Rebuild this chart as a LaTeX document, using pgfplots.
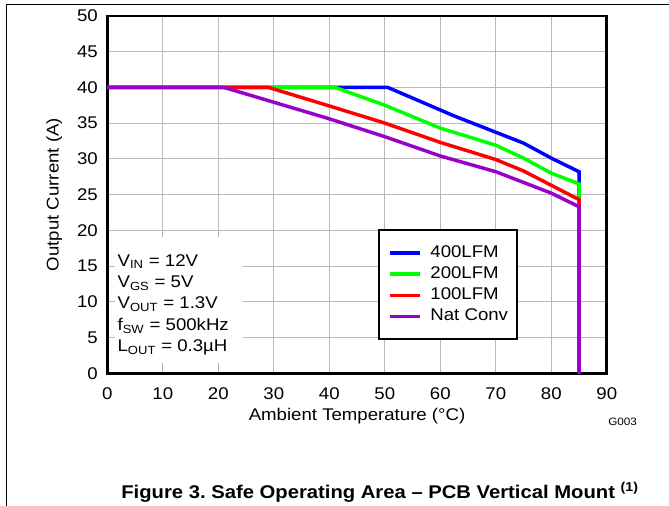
\documentclass[border=0pt]{standalone}
\usepackage{fontspec}
\setmainfont{Liberation Sans}[FakeStretch=1.1]
\usepackage{pgfplots}
\pgfplotsset{compat=1.18}
\frenchspacing

\definecolor{c400}{RGB}{0,0,255}
\definecolor{c200}{RGB}{0,255,0}
\definecolor{c100}{RGB}{255,0,0}
\definecolor{cnat}{RGB}{153,0,204}
\newcommand{\lbl}{\fontsize{12.7}{14}\selectfont}

\begin{document}
\begin{tikzpicture}
\useasboundingbox (0,0) rectangle (501.75pt,379.5pt);
% frame of the datasheet table
\draw[line width=0.8pt] (4.8pt,0) -- (4.8pt,376.3pt) -- (501.75pt,376.3pt);

\begin{axis}[
    at={(80.5pt,99.5pt)}, anchor=south west,
    scale only axis, width=374.6pt, height=268.1pt,
    xmin=0, xmax=90, ymin=0, ymax=50,
    xtick={0,10,...,90}, ytick={0,5,...,50},
    grid=major, grid style={gray!55, line width=0.75pt},
    major tick length=0pt,
    axis line style={line width=2pt},
    /pgf/number format/assume math mode=true,
    tick label style={font=\lbl},
    xticklabel style={anchor=base, yshift=-19.3pt},
    yticklabel style={anchor=east, inner sep=0pt, xshift=-7pt},
    xlabel={Ambient Temperature (°C)},
    ylabel={Output Current (A)},
    xlabel style={at={(axis description cs:0.5,-0.1326)}, anchor=base, font=\lbl},
    ylabel style={at={(axis description cs:-0.0974,0.5)}, anchor=base, font=\lbl},
    legend style={at={(axis description cs:0.5425,0.4028)}, anchor=north west,
        draw=black, line width=1.5pt, fill=white,
        inner xsep=6.5pt, inner ysep=9pt, row sep=0pt, column sep=6.75pt,
        nodes={inner sep=0pt, text height=11pt, text depth=4.9pt, font=\lbl}},
    legend cell align=left,
    legend image code/.code={\draw[#1] (0pt,0pt) -- (22.5pt,0pt);},
]
\addplot[c400, line width=2.6pt] coordinates {
    (0,40) (50.5,40) (62.5,36) (75,32.2) (80,30.1) (85,28.2) (85,0)};
\addlegendentry{400LFM}
\addplot[c200, line width=2.6pt] coordinates {
    (0,40) (41,40) (50,37.5) (60,34.3) (70,31.9) (75,30.1) (80,28.0) (85,26.5) (85,0)};
\addlegendentry{200LFM}
\addplot[c100, line width=2.6pt] coordinates {
    (0,40) (29,40) (40,37.4) (50,35) (60,32.3) (70,29.9) (75,28.3) (80,26.3) (85,24.3) (85,0)};
\addlegendentry{100LFM}
\addplot[cnat, line width=2.6pt] coordinates {
    (0,40) (21,40) (40,35.6) (50,33.1) (60,30.4) (70,28.2) (80,25.2) (85,23.3) (85,0)};
\addlegendentry{Nat Conv}

% conditions box
\fill[white] (axis cs:1.4,1.4) rectangle (axis cs:24.4,19);
\node[anchor=base west, inner sep=0pt, font=\lbl] at (axis cs:1.8,15) {V\textsubscript{IN} = 12V};
\node[anchor=base west, inner sep=0pt, font=\lbl] at (axis cs:1.8,12) {V\textsubscript{GS} = 5V};
\node[anchor=base west, inner sep=0pt, font=\lbl] at (axis cs:1.8,9) {V\textsubscript{OUT} = 1.3V};
\node[anchor=base west, inner sep=0pt, font=\lbl] at (axis cs:1.8,6) {f\textsubscript{SW} = 500kHz};
\node[anchor=base west, inner sep=0pt, font=\lbl] at (axis cs:1.8,3) {L\textsubscript{OUT} = 0.3µH};
\end{axis}

\node[anchor=base, font=\fontsize{8}{9}\selectfont] at (467pt,60pt) {G003};
\node[anchor=base, font=\fontsize{13.8}{16}\selectfont\bfseries] at (285pt,5.8pt)
    {Figure 3. Safe Operating Area – PCB Vertical Mount \textsuperscript{(1)}};
\end{tikzpicture}
\end{document}
